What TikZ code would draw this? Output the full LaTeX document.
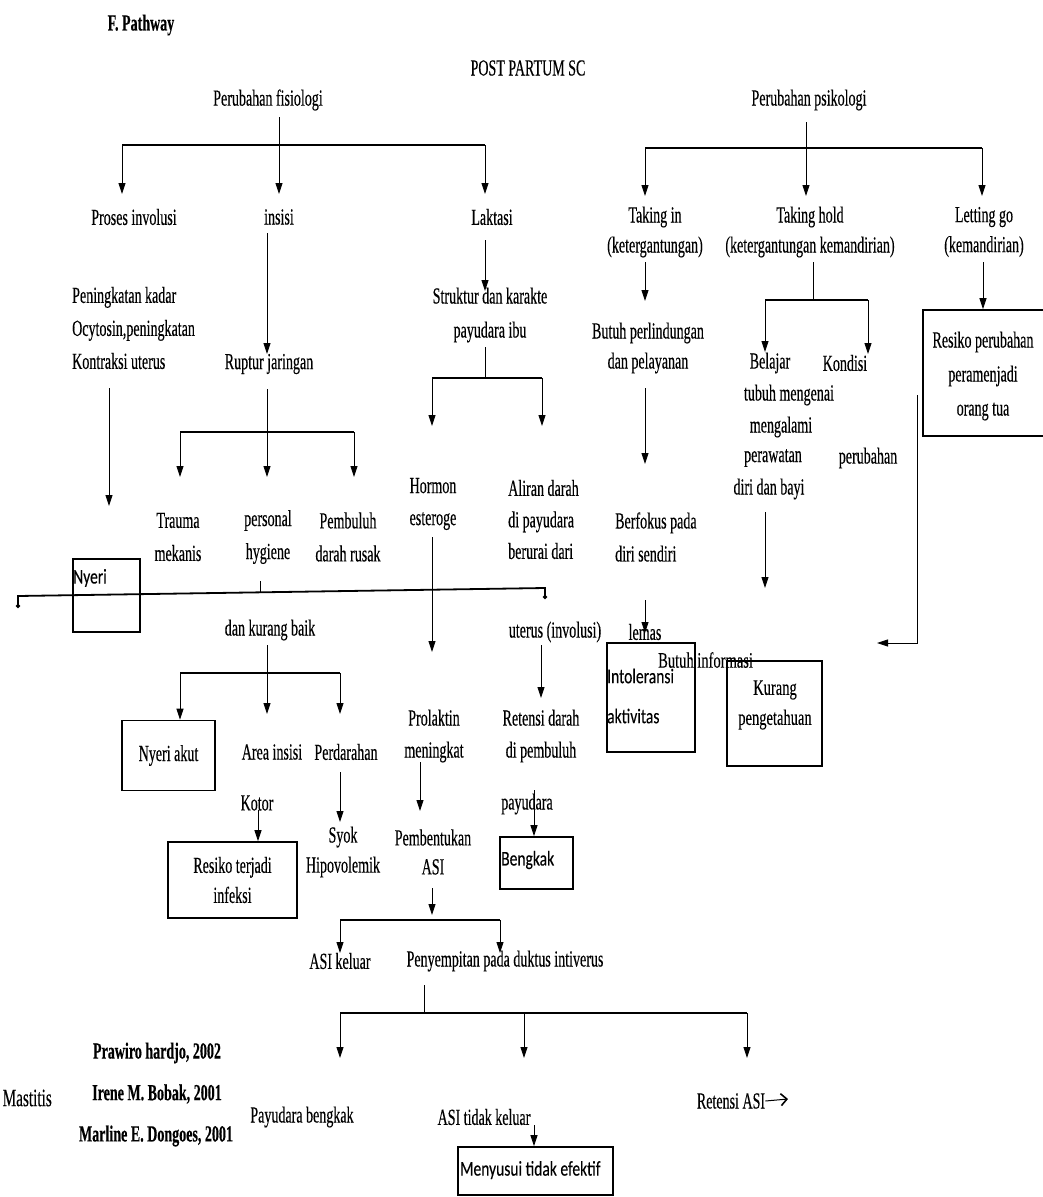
\documentclass[tikz,border=0pt]{standalone}
\usepackage{fontspec}
\setmainfont[FakeStretch=0.61,FakeBold=0.3]{Liberation Serif}
\newfontfamily\sansf[FakeStretch=0.74,FakeBold=0.2]{Carlito}
\newfontfamily\serifb[FakeStretch=0.66,FakeBold=0.2]{Liberation Serif}
\usetikzlibrary{arrows.meta}
\begin{document}
\begin{tikzpicture}[x=1pt,y=-1pt,
  txt/.style={inner sep=0pt, font=\fontsize{23}{32}\selectfont, align=center},
  btxt/.style={inner sep=0pt, font=\bfseries\fontsize{23}{32}\selectfont, align=center},
  stxt/.style={inner sep=0pt, font=\sansf\fontsize{21}{30}\selectfont, align=left},
  gtxt/.style={inner sep=0pt, font=\serifb\fontsize{22}{30}\selectfont, align=center},
  ln/.style={draw, line width=0.9pt},
  arr/.style={draw, line width=0.9pt, -{Triangle[length=11pt,width=7pt]}},
  bar/.style={draw, line width=2.6pt},
  box/.style={draw, line width=1.7pt, inner sep=0pt},
]
\useasboundingbox (0,0) rectangle (1042,1197);

% ---------- headings ----------
\node[btxt] (title) at (141,25) {F. Pathway};
\node[txt] (post) at (528,68) {POST PARTUM SC};
\node[txt] (fis) at (268,100) {Perubahan fisiologi};
\node[txt] (psi) at (809,100) {Perubahan psikologi};

% ---------- fisiologi tree ----------
\coordinate (f0) at (279,117); \coordinate (fb) at (279,145);
\coordinate (fbL) at (122,145); \coordinate (fbR) at (485,145);
\coordinate (fa1) at (122,194); \coordinate (fa2) at (279,194); \coordinate (fa3) at (485,194);
\draw[ln] (f0) -- (fb);
\draw[bar] (fbL) -- (fbR);
\draw[arr] (fbL) -- (fa1);
\draw[arr] (fb) -- (fa2);
\draw[arr] (fbR) -- (fa3);

\node[txt] (proses) at (134,217) {Proses involusi};
\node[txt] (insisi) at (279,217) {insisi};
\node[txt] (laktasi) at (492,217) {Laktasi};

% involusi branch
\node[txt, align=left, anchor=west, font=\fontsize{23}{33}\selectfont] (pening) at (72,328) {Peningkatan kadar\\Ocytosin,peningkatan\\Kontraksi uterus};
\coordinate (p1) at (109,388); \coordinate (p2) at (109,506);
\draw[arr] (p1) -- (p2);
\node[box, anchor=north west, minimum width=67pt, minimum height=73pt] (nyeribox) at (72,558) {};
\node[stxt, anchor=west] (nyeri) at (73,578) {Nyeri};

% insisi branch
\coordinate (i1) at (267,233); \coordinate (i2) at (267,354);
\draw[arr] (i1) -- (i2);
\node[txt] (ruptur) at (269,364) {Ruptur jaringan};
\coordinate (r0) at (267,389); \coordinate (rb) at (267,432);
\coordinate (rbL) at (180,432); \coordinate (rbR) at (354,432);
\coordinate (ra1) at (180,477); \coordinate (ra2) at (267,477); \coordinate (ra3) at (354,477);
\draw[ln] (r0) -- (rb);
\draw[bar] (rbL) -- (rbR);
\draw[arr] (rbL) -- (ra1);
\draw[arr] (rb) -- (ra2);
\draw[arr] (rbR) -- (ra3);
\node[txt, font=\fontsize{23}{33}\selectfont] (trauma) at (178,537) {Trauma\\mekanis};
\node[txt, font=\fontsize{23}{33}\selectfont] (personal) at (268,537) {personal\\hygiene};
\node[txt, font=\fontsize{23}{33}\selectfont] (pembuluh) at (348,537) {Pembuluh\\darah rusak};

% long connector line
\coordinate (L1) at (18,608); \coordinate (L2) at (18,596);
\coordinate (L3) at (545,588); \coordinate (L4) at (545,599);
\draw[line width=1.8pt, {Circle[length=4pt]}-{Circle[length=4pt]}] (L1) -- (L2) -- (L3) -- (L4);
\coordinate (h1) at (260,581); \coordinate (h2) at (260,593);
\draw[ln] (h1) -- (h2);

\node[txt] (dankurang) at (270,630) {dan kurang baik};
\coordinate (d0) at (267,645); \coordinate (db) at (267,673);
\coordinate (dbL) at (180,673); \coordinate (dbR) at (340,673);
\coordinate (da2) at (267,714); \coordinate (da3) at (340,714);
\draw[ln] (d0) -- (db);
\draw[bar] (dbL) -- (dbR);
\node[box, txt, minimum width=93pt, minimum height=70pt, line width=1.7pt] (nyeriakut) at (168.5,755.5) {Nyeri akut};
\draw[arr] (dbL) -- (dbL |- nyeriakut.north);
\draw[arr] (db) -- (da2);
\draw[arr] (dbR) -- (da3);
\node[txt] (area) at (272,752) {Area insisi};
\node[txt] (perdarahan) at (346,752) {Perdarahan};
\node[txt] (kotor) at (257,803) {Kotor};
\node[box, txt, minimum width=129pt, minimum height=76pt, line width=1.7pt, font=\fontsize{23}{30}\selectfont] (resiko) at (232.5,880) {Resiko terjadi\\infeksi};
\coordinate (k1) at (258,810);
\draw[arr] (k1) -- (k1 |- resiko.north);
\coordinate (pd1) at (340,772); \coordinate (pd2) at (340,822);
\draw[arr] (pd1) -- (pd2);
\node[txt, font=\fontsize{23}{30}\selectfont] (syok) at (343,852) {Syok\\Hipovolemik};

% laktasi branch
\coordinate (l1) at (485,240); \coordinate (l2) at (485,291);
\draw[arr] (l1) -- (l2);
\node[txt, font=\fontsize{23}{34}\selectfont] (struktur) at (490,315) {Struktur dan karakte\\payudara ibu};
\coordinate (s0) at (485,347); \coordinate (sb) at (485,378);
\coordinate (sbL) at (432,378); \coordinate (sbR) at (542,378);
\coordinate (sa1) at (432,426); \coordinate (sa2) at (542,426);
\draw[ln] (s0) -- (sb);
\draw[bar] (sbL) -- (sbR);
\draw[arr] (sbL) -- (sa1);
\draw[arr] (sbR) -- (sa2);
\node[txt] (hormon) at (433,504) {Hormon\\esteroge};
\node[txt, align=left, anchor=west, font=\fontsize{23}{31.5}\selectfont] (aliran) at (508,519.5) {Aliran darah\\di payudara\\berurai dari};
\coordinate (h3) at (432,537); \coordinate (h4) at (432,652);
\draw[arr] (h3) -- (h4);
\node[txt] (uterus) at (555,632) {uterus (involusi)};
\coordinate (u1) at (541,645); \coordinate (u2) at (541,698);
\draw[arr] (u1) -- (u2);
\node[txt] (prolaktin) at (434,736) {Prolaktin\\meningkat};
\node[txt] (retensi) at (541,736) {Retensi darah\\di pembuluh};
\coordinate (pr1) at (420,762); \coordinate (pr2) at (420,811);
\draw[arr] (pr1) -- (pr2);
\node[txt, font=\fontsize{23}{29}\selectfont] (pembentukan) at (433,852) {Pembentukan\\ASI};
\node[txt] (payudara) at (527,804) {payudara};
\node[box, minimum width=73pt, minimum height=52pt] (bengkakbox) at (536.5,863) {};
\node[stxt, anchor=west] (bengkak) at (501,860) {Bengkak};
\coordinate (py1) at (534,790);
\draw[arr] (py1) -- (py1 |- bengkakbox.north);

% ASI
\coordinate (a1) at (432,888); \coordinate (a2) at (432,915);
\draw[arr] (a1) -- (a2);
\coordinate (abL) at (340,920); \coordinate (abR) at (500,920);
\coordinate (aa1) at (340,953); \coordinate (aa2) at (500,953);
\draw[bar] (abL) -- (abR);
\draw[arr] (abL) -- (aa1);
\draw[arr] (abR) -- (aa2);
\node[txt] (asikeluar) at (340,961) {ASI keluar};
\node[txt] (penyempitan) at (505,961) {Penyempitan pada duktus intiverus};
\coordinate (n0) at (424,985); \coordinate (nb) at (424,1013);
\coordinate (nbL) at (340,1013); \coordinate (nbM) at (524,1013); \coordinate (nbR) at (747,1013);
\coordinate (na1) at (340,1058); \coordinate (na2) at (524,1058); \coordinate (na3) at (747,1058);
\draw[ln] (n0) -- (nb);
\draw[bar] (nbL) -- (nbR);
\draw[arr] (nbL) -- (na1);
\draw[arr] (nbM) -- (na2);
\draw[arr] (nbR) -- (na3);
\node[txt] (payudarabengkak) at (302,1117) {Payudara bengkak};
\node[txt] (asitidak) at (484,1117) {ASI tidak keluar};
\node[txt] (retensiasi) at (731,1101) {Retensi ASI};
\coordinate (raEnd) at (788,1099);
\draw[line width=1pt, -{Straight Barb[length=6pt,width=12pt,line width=1.6pt]}] (retensiasi.east) -- (raEnd);
\node[box, minimum width=155pt, minimum height=48pt] (menyusuibox) at (535.5,1171) {};
\node[stxt, anchor=west] (menyusui) at (460,1170) {Menyusui tidak efektif};
\coordinate (t1) at (534,1125);
\draw[arr] (t1) -- (t1 |- menyusuibox.north);

% references
\node[txt, anchor=east, font=\fontsize{25}{32}\selectfont] (mastitis) at (52,1098) {Mastitis};
\node[btxt] (prawiro) at (157,1053) {Prawiro hardjo, 2002};
\node[btxt] (irene) at (157,1094) {Irene M. Bobak, 2001};
\node[btxt] (marline) at (156,1136) {Marline E. Dongoes, 2001};

% ---------- psikologi tree ----------
\coordinate (q0) at (806,122); \coordinate (qb) at (806,148);
\coordinate (qbL) at (645,148); \coordinate (qbR) at (982,148);
\coordinate (qa1) at (645,196); \coordinate (qa2) at (806,196); \coordinate (qa3) at (982,196);
\draw[ln] (q0) -- (qb);
\draw[bar] (qbL) -- (qbR);
\draw[arr] (qbL) -- (qa1);
\draw[arr] (qb) -- (qa2);
\draw[arr] (qbR) -- (qa3);
\node[txt, font=\fontsize{23}{30}\selectfont] (takingin) at (655,232) {Taking in\\(ketergantungan)};
\node[txt, font=\fontsize{23}{30}\selectfont] (takinghold) at (810,232) {Taking hold\\(ketergantungan kemandirian)};
\node[txt, font=\fontsize{23}{30}\selectfont] (letting) at (984,232) {Letting go\\(kemandirian)};

% taking in
\coordinate (ti1) at (645,262); \coordinate (ti2) at (645,301);
\draw[arr] (ti1) -- (ti2);
\node[txt, font=\fontsize{23}{30}\selectfont] (butuh) at (648,348) {Butuh perlindungan\\dan pelayanan};
\coordinate (bp1) at (645,388); \coordinate (bp2) at (645,464);
\draw[arr] (bp1) -- (bp2);
\node[txt, align=left, anchor=west, font=\fontsize{23}{33}\selectfont] (berfokus) at (615,537) {Berfokus pada\\diri sendiri};
\coordinate (bf1) at (645,600); \coordinate (bf2) at (645,633);
\node[txt] (lemas) at (645,632) {lemas};
\draw[arr] (bf1) -- (bf2);
\node[box, minimum width=88pt, minimum height=109pt] (intolbox) at (651,697.5) {};
\node[stxt, anchor=west] (intol1) at (607,676) {Intoleransi};
\node[stxt, anchor=west] (intol2) at (607,716) {aktivitas};
\node[box, minimum width=95pt, minimum height=105pt] (kurangbox) at (774.5,713.5) {};
\node[gtxt] (kurang) at (775,705) {Kurang\\pengetahuan};
\node[gtxt, anchor=west] (butuhinfo) at (658,660) {Butuh informasi};

% taking hold
\coordinate (th0) at (813,262); \coordinate (thb) at (813,300);
\coordinate (thL) at (765,300); \coordinate (thR) at (868,300);
\coordinate (tha1) at (765,352); \coordinate (tha2) at (868,354);
\draw[ln] (th0) -- (thb);
\draw[bar] (thL) -- (thR);
\draw[arr] (thL) -- (tha1);
\draw[arr] (thR) -- (tha2);
\node[txt] (belajar) at (770,363) {Belajar};
\node[txt] (kondisi) at (845,363) {Kondisi};
\node[txt] (tubuh) at (789,395) {tubuh mengenai};
\node[txt] (mengalami) at (781,427) {mengalami};
\node[txt] (perawatan) at (773,458) {perawatan};
\node[txt] (perubahan) at (868,458) {perubahan};
\node[txt] (diri) at (769,489) {diri dan bayi};
\coordinate (db1) at (765,512); \coordinate (db2) at (765,588);
\draw[arr] (db1) -- (db2);

% letting go
\node[box, minimum width=122pt, minimum height=126pt] (resikopbox) at (984,373) {};
\node[txt, font=\fontsize{23}{34}\selectfont] (resikop) at (983,376) {Resiko perubahan\\peramenjadi\\orang tua};
\coordinate (lg1) at (983,262);
\draw[arr] (lg1) -- (lg1 |- resikopbox.north);
\coordinate (rp1) at (917,395); \coordinate (rp2) at (917,643); \coordinate (rp3) at (877,643);
\draw[arr] (rp1) -- (rp2) -- (rp3);

\end{tikzpicture}
\end{document}
